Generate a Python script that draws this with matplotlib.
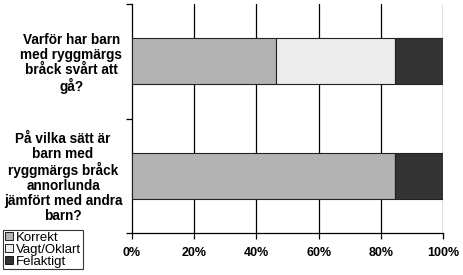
import matplotlib.pyplot as plt
import numpy as np
from matplotlib.patches import Patch

# Data
fragor = ["Varför har barn\nmed ryggmärgs\nbråck svårt att\ngå?",
          "På vilka sätt är\nbarn med\nryggmärgs bråck\nannorlunda\njämfört med andra\nbarn?"]
serier = ["Korrekt", "Vagt/Oklart", "Felaktigt"]
korrekt = [46.2, 84.6]
vagt = [38.5, 0.0]
felaktigt = [15.4, 15.4]
farger = ["#b3b3b3", "#ececec", "#333333"]
xticks = [0, 20, 40, 60, 80, 100]

plt.rcParams['font.family'] = ['Liberation Sans', 'DejaVu Sans']

fig = plt.figure(figsize=(4.63, 2.75), dpi=100)
ax = fig.add_axes([132/463, 1-233/275, 311/463, 229/275])

y = np.array([1.5, 0.5])
left = np.zeros(2)
for vals, f, namn in zip([korrekt, vagt, felaktigt], farger, serier):
    vals = np.array(vals)
    ax.barh(y, vals, left=left, height=0.4, color=f, edgecolor="#222222",
            linewidth=0.8, label=namn, zorder=3)
    left = left + vals

ax.set_xlim(0, 100)
ax.set_ylim(0, 2)
ax.set_xticks(xticks)
ax.set_xticklabels([f"{t}%" for t in xticks], fontweight="bold", fontsize=9)
for t in xticks[1:]:
    ax.axvline(t, color="black", linewidth=0.9, zorder=1)

# kategoritext vid mitten, tickstreck vid gränserna
ax.set_yticks(y)
ax.set_yticklabels(fragor, fontweight="bold", fontsize=9.8, ha="right",
                   multialignment="center", linespacing=1.08)
ax.tick_params(axis="y", which="major", length=0, pad=7)
ax.set_yticks([0, 1, 2], minor=True)
ax.tick_params(axis="y", which="minor", length=4, width=0.9, direction="out")
ax.tick_params(axis="x", length=4, width=0.9, direction="out", pad=6)

ax.spines["top"].set_visible(False)
ax.spines["right"].set_visible(False)
ax.spines["left"].set_linewidth(0.9)
ax.spines["bottom"].set_linewidth(0.9)

handles = [Patch(facecolor=f, edgecolor="black", linewidth=0.6) for f in farger]
leg = fig.legend(handles, serier, loc="upper left",
                 bbox_to_anchor=(3/463, 1-230/275), fontsize=9.5,
                 frameon=True, fancybox=False, edgecolor="black",
                 handlelength=0.6, handleheight=0.6, handletextpad=0.25,
                 borderpad=0.12, labelspacing=0.0, borderaxespad=0)
leg.get_frame().set_linewidth(0.8)

fig.savefig("out.png", dpi=100)
